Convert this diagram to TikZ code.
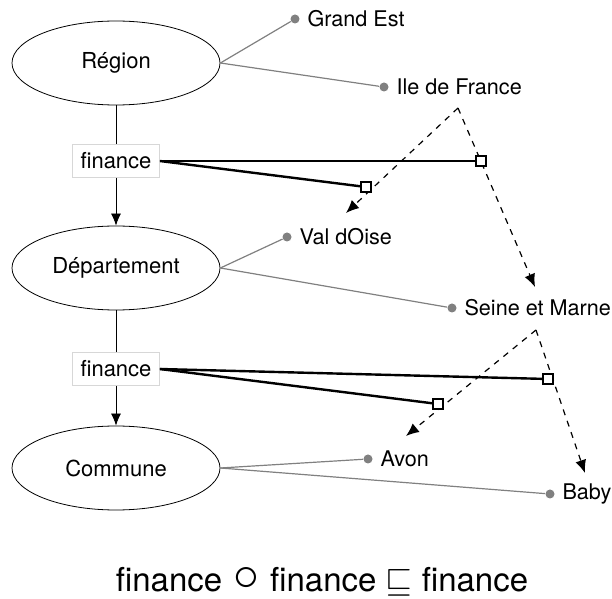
\documentclass[tikz,border=0pt]{standalone}
\usepackage{fontspec}
\setmainfont{TeX Gyre Heros}
\usetikzlibrary{arrows.meta,positioning,shapes.geometric}
\definecolor{black}{RGB}{0,0,0}
\definecolor{lk}{RGB}{128,128,128}
\definecolor{bx}{RGB}{215,215,215}
\tikzset{
  lvl/.style={ellipse, draw=black, minimum width=104pt, minimum height=42pt, font=\fontsize{11}{13}\selectfont},
  rolebox/.style={draw=bx, fill=white, minimum width=43.5pt, minimum height=16.5pt, inner sep=1pt, font=\fontsize{11}{13}\selectfont},
  inst/.style={circle, fill=lk, inner sep=0pt, minimum size=4.5pt},
  instlabel/.style={right=0.3pt of #1, font=\fontsize{10.8}{13}\selectfont},
  sq/.style={draw=black, fill=white, line width=1pt, inner sep=0pt, minimum size=5pt},
  rel/.style={line width=1.2pt},
  lnk/.style={lk, line width=0.6pt},
  comp/.style={dashed, line width=0.6pt, -{Latex[length=6.5pt,width=5.5pt]}}
}
\begin{document}
\begin{tikzpicture}[x=0.5pt,y=-0.5pt]
\useasboundingbox (0,0) rectangle (612,599);
% levels
\node[lvl] (reg) at (116,63) {Région};
\node[lvl] (dep) at (116,268) {Département};
\node[lvl] (com) at (116,468) {Commune};
\node[rolebox] (fin1) at (116,161) {finance};
\node[rolebox] (fin2) at (116,369) {finance};
\draw (reg.south) -- (fin1.north);
\draw[-{Latex[length=6pt,width=5pt]}] (fin1.south) -- (dep.north);
\draw (dep.south) -- (fin2.north);
\draw[-{Latex[length=6pt,width=5pt]}] (fin2.south) -- (com.north);

% instances
\node[inst] (ge) at (295,19) {};
\node[instlabel=ge] {Grand Est};
\node[inst] (idf) at (384,87) {};
\node[instlabel=idf] {Ile de France};
\node[inst] (vdo) at (287,237) {};
\node[instlabel=vdo] {Val dOise};
\node[inst] (sem) at (452,308) {};
\node[instlabel=sem] {Seine et Marne};
\node[inst] (avon) at (368,459) {};
\node[instlabel=avon] {Avon};
\node[inst] (baby) at (550,494) {};
\node[instlabel=baby] {Baby};
\draw[lnk] (reg.east) -- (ge);
\draw[lnk] (reg.east) -- (idf);
\draw[lnk] (dep.east) -- (vdo);
\draw[lnk] (dep.east) -- (sem);
\draw[lnk] (com.east) -- (avon);
\draw[lnk] (com.east) -- (baby);

% composition
\coordinate (top1) at (458,108);
\coordinate (top2) at (536,330);
\coordinate (tipvdo) at (346,213);
\coordinate (tipsem) at (535,287);
\coordinate (tipavon) at (406,436);
\coordinate (tipbaby) at (585,473);
\draw[comp] (top1) -- (tipvdo);
\draw[comp] (top1) -- (tipsem);
\draw[comp] (top2) -- (tipavon);
\draw[comp] (top2) -- (tipbaby);
\node[sq] (sq1a) at (481,161) {};
\node[sq] (sq1b) at (366,187) {};
\node[sq] (sq2a) at (548,379) {};
\node[sq] (sq2b) at (438,404) {};
\draw[rel] (fin1.east) -- (sq1a);
\draw[rel] (fin1.east) -- (sq1b);
\draw[rel] (fin2.east) -- (sq2a);
\draw[rel] (fin2.east) -- (sq2b);

\node[font=\fontsize{16.5}{20}\selectfont] (law) at (322,582) {finance\,\,\raisebox{0.5pt}{\scalebox{1.5}{$\circ$}}\,\,finance $\sqsubseteq$ finance};
\end{tikzpicture}
\end{document}
